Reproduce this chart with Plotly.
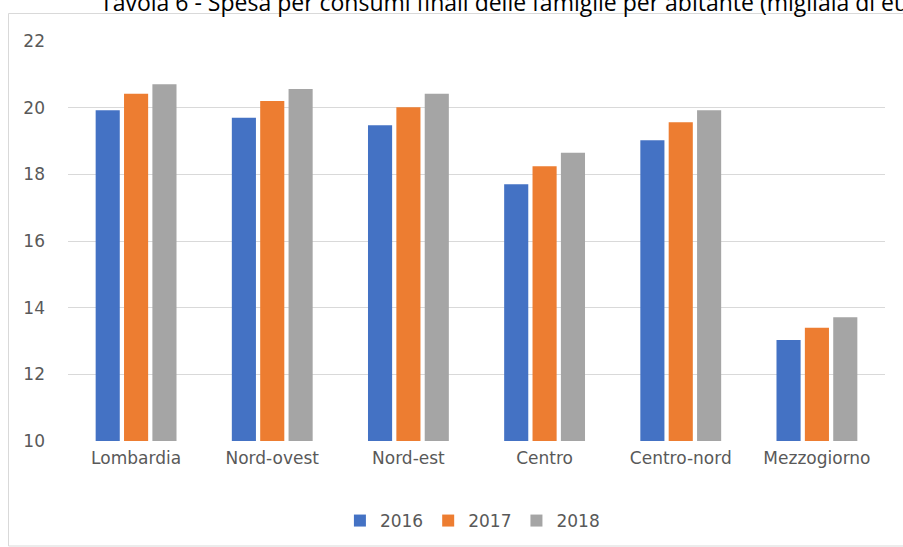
import plotly.graph_objects as go

# Data
regions = ["Lombardia", "Nord-ovest", "Nord-est", "Centro", "Centro-nord", "Mezzogiorno"]
years = ["2016", "2017", "2018"]
spesa_2016 = [19.92, 19.70, 19.47, 17.70, 19.02, 13.03]
spesa_2017 = [20.42, 20.20, 20.01, 18.24, 19.56, 13.40]
spesa_2018 = [20.70, 20.56, 20.42, 18.65, 19.92, 13.71]
colors = ["#4472C4", "#ED7D31", "#A5A5A5"]

title_text = "Tavola 6 - Spesa per consumi finali delle famiglie per abitante (migliaia di euro)"

W, H = 903, 547
L, R, T, B = 68, 18, 41, 106
pw, ph = W - L - R, H - T - B


def px_x(x):
  return (x - L) / pw


def px_y(y):
  return (H - B - y) / ph


fig = go.Figure()
for name, vals, col in zip(years, [spesa_2016, spesa_2017, spesa_2018], colors):
  fig.add_trace(go.Bar(x=regions, y=vals, name=name, marker=dict(color=col, line_width=0)))

fig.update_layout(
  width=W, height=H,
  margin=dict(l=L, r=R, t=T, b=B, autoexpand=False),
  paper_bgcolor="white", plot_bgcolor="white",
  barmode="group", bargap=0.375, bargroupgap=0.15,
  font=dict(family="DejaVu Sans", color="#595959", size=16),
  showlegend=True,
  legend=dict(orientation="h", x=0.495, xanchor="center", y=px_y(521), yanchor="middle",
              font=dict(size=17, color="#595959"), itemwidth=30, traceorder="normal"),
  xaxis=dict(showgrid=False, showline=False, ticks="", tickfont=dict(size=17, color="#595959"),
             ticklabelstandoff=5),
  yaxis=dict(range=[10, 22], dtick=2, showgrid=True, gridcolor="#D9D9D9", gridwidth=1,
             zeroline=False, showline=False, ticks="", ticklabelstandoff=22,
             tickfont=dict(size=17, color="#595959")),
)

# chart frame (partly outside the visible page)
fig.add_shape(type="rect", xref="paper", yref="paper",
              x0=px_x(8.5), x1=px_x(950), y0=px_y(546), y1=px_y(13.5),
              line=dict(color="#D9D9D9", width=1), fillcolor="rgba(0,0,0,0)", layer="below")

# title, clipped at the top as in the reference
fig.add_annotation(text=title_text, xref="paper", yref="paper",
                   x=px_x(98), xanchor="left", y=px_y(1.5), yanchor="middle",
                   showarrow=False, font=dict(family="Open Sans", size=23, color="#000000"))

page_fix = ("document.documentElement.style.margin='0';"
            "document.documentElement.style.overflow='hidden';"
            "document.body.style.margin='0';"
            "document.body.style.overflow='hidden';")
fig.write_html("out.html", config={"displayModeBar": False}, post_script=page_fix)
